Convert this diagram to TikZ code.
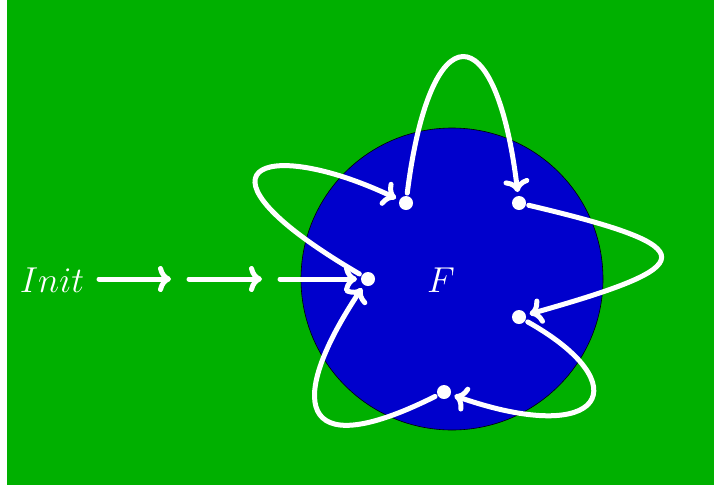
\documentclass[tikz,border=0pt]{standalone}
\usepackage{fix-cm}
\usetikzlibrary{arrows.meta}
\definecolor{bggreen}{RGB}{0,176,0}
\definecolor{fblue}{RGB}{0,0,204}
\tikzset{
  dot/.style={circle,fill=white,inner sep=0pt,minimum size=14pt,outer sep=3pt},
  trans/.style={white,line width=5pt,line cap=round,-{To[length=13pt,width=26pt,round]},shorten >=1pt},
  lab/.style={text=white,font=\fontsize{36}{36}\selectfont,inner sep=0pt}
}
\begin{document}
\begin{tikzpicture}[x=1pt,y=-1pt]
\useasboundingbox (0,0) rectangle (714,485);
\fill[white] (0,0) rectangle (714,485);
\fill[bggreen] (7,0) rectangle (714,485);
\node[circle,draw=black,line width=0.6pt,fill=fblue,minimum size=302pt,inner sep=0pt] (F) at (452,279) {};
\node[lab] (flab) at (441,280) {$F$};
\node[lab] (init) at (52,280) {$Init$};
\node[dot] (d1) at (368,279) {};
\node[dot] (d2) at (406,203) {};
\node[dot] (d3) at (519,203) {};
\node[dot] (d4) at (519,317) {};
\node[dot] (d5) at (444,392) {};
\coordinate (a1) at (99,279);
\coordinate (b1) at (171,279);
\coordinate (a2) at (189,279);
\coordinate (b2) at (262,279);
\coordinate (a3) at (280,279);
\draw[trans,shorten >=0pt] (a1) -- (b1);
\draw[trans,shorten >=0pt] (a2) -- (b2);
\draw[trans] (a3) -- (d1);
\draw[trans] (d1) .. controls +(-190,-111) and +(-144,-68) .. (d2);
\draw[trans] (d2) .. controls +(24,-191) and +(-23,-191) .. (d3);
\draw[trans] (d3) .. controls +(191,45) and +(181,-51) .. (d4);
\draw[trans] (d4) .. controls +(121,68) and +(160,56) .. (d5);
\draw[trans] (d5) .. controls +(-150,75) and +(-80,120) .. (d1);
\end{tikzpicture}
\end{document}
